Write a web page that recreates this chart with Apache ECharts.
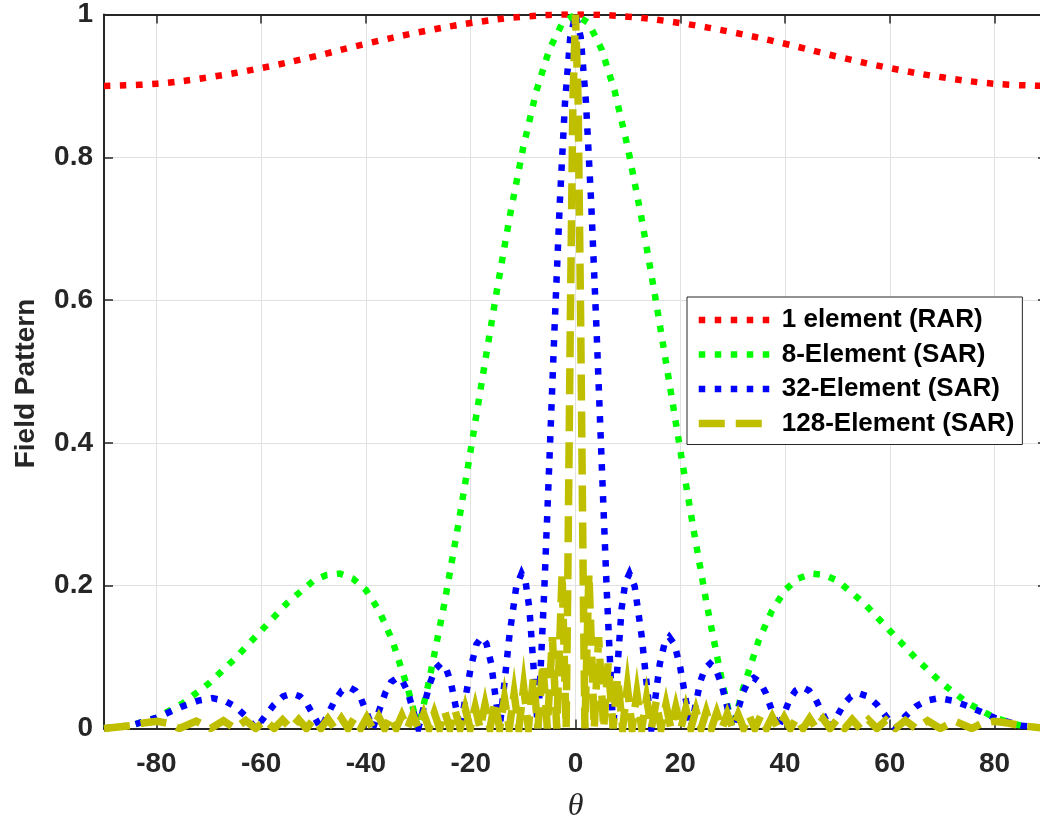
<!DOCTYPE html>
<html>
<head>
<meta charset="utf-8">
<script src="https://cdn.jsdelivr.net/npm/echarts@6/dist/echarts.min.js"></script>
<style>
html,body{margin:0;padding:0;background:#fff;}
#chart{width:1040px;height:821px;}
</style>
</head>
<body>
<div id="chart"></div>
<script>
// ---- data ----
const xTicks = [-80, -60, -40, -20, 0, 20, 40, 60, 80];
const seriesNames = ['1 element (RAR)', '8-Element (SAR)', '32-Element (SAR)', '128-Element (SAR)'];

const theta1 = [-90,-80,-70,-60,-50,-40,-30,-20,-10,0,10,20,30,40,50,60,70,80,90];
const rar1 = [0.900,0.903,0.912,0.925,0.941,0.959,0.975,0.988,0.997,1.000,0.997,0.988,0.975,0.959,0.941,0.925,0.912,0.903,0.900];

const theta8 = [-90,-85,-80,-75,-70,-65,-60,-55,-50,-47.5,-45,-42.5,-40,-37.5,-35,-32,-30,-28,-25,-22.5,-20,-17.5,-15,-12.5,-10,-7.5,-5,-2.5,
  0,2.5,5,7.5,10,12.5,15,17.5,20,22.5,25,28,30,32,35,37.5,40,42.5,45,47.5,50,55,60,65,70,75,80,85,90];
const sar8 = [0,0.004,0.015,0.035,0.063,0.098,0.137,0.176,0.207,0.215,0.217,0.210,0.194,0.165,0.124,0.056,0,0.065,0.176,0.280,0.390,0.503,0.614,0.719,0.813,0.892,0.951,0.988,
  1,0.988,0.951,0.892,0.813,0.719,0.614,0.503,0.390,0.280,0.176,0.065,0,0.056,0.124,0.165,0.194,0.210,0.217,0.215,0.207,0.176,0.137,0.098,0.063,0.035,0.015,0.004,0];

const theta32 = [-90,-85,-80,-75,-72,-69.35,-67,-65,-63,-61.05,-57.6,-55.8,-54.15,-52.6,-51.3,-48.59,-45.9,-44.6,-43.25,-42,-40.9,-38.68,-36.3,-35.2,-34.03,-33,-32,-30,-27.9,-26.8,-25.7,-24.7,-23.8,-22.02,-20,-18.9,-17.9,-17,-16.1,-14.48,-12.6,-11.3,-10.3,-9.5,-8.8,-7.18,-6,-5,-4,-3,-2,-1,
  0,1,2,3,4,5,6,7.18,8.8,9.5,10.3,11.3,12.6,14.48,16.1,17,17.9,18.9,20,22.02,23.8,24.7,25.7,26.8,27.9,30,32,33,34.03,35.2,36.3,38.68,40.9,42,43.25,44.6,45.9,48.59,51.3,52.6,54.15,55.8,57.6,61.05,63,65,67,69.35,72,75,80,85,90];
const sar32 = [0,0.004,0.015,0.031,0.039,0.0425,0.039,0.031,0.0175,0,0.033,0.045,0.049,0.045,0.035,0,0.040,0.053,0.058,0.053,0.041,0,0.050,0.065,0.071,0.066,0.051,0,0.061,0.083,0.091,0.084,0.065,0,0.085,0.118,0.128,0.119,0.091,0,0.131,0.199,0.217,0.204,0.168,0,0.187,0.372,0.561,0.736,0.877,0.968,
  1,0.968,0.877,0.736,0.561,0.372,0.187,0,0.168,0.204,0.217,0.199,0.131,0,0.091,0.119,0.128,0.118,0.085,0,0.065,0.084,0.091,0.083,0.061,0,0.051,0.066,0.071,0.065,0.050,0,0.041,0.053,0.058,0.053,0.040,0,0.035,0.045,0.049,0.045,0.033,0,0.0175,0.031,0.039,0.0425,0.039,0.031,0.015,0.004,0];

const theta128 = [-90,-85,-82.5,-79.86,-77.5,-75.64,-72.4,-69.64,-67.21,-65.01,-62.96,-61.05,-59.25,-57.52,-55.91,-54.34,-52.83,-51.37,-49.96,-48.59,-47.26,-45.95,-44.68,-43.43,-42.21,-41.01,-39.84,-38.68,-37.55,-36.44,-35.32,-34.23,-33.15,-32.09,-31.04,-30,-28.97,-27.95,-26.95,-25.94,-24.95,-23.97,-22.99,-22.02,-21.06,-20.11,-19.15,-18.21,-17.27,-16.33,-15.4,-14.48,-13.56,-12.64,-11.72,-10.81,-9.9,-8.99,-8.04,-7.18,-6.23,-5.38,-4.41,-3.58,-2.56,-1.79,-1.5,-1,-0.5,
  0,
  0.5,1,1.5,1.79,2.56,3.58,4.41,5.38,6.23,7.18,8.04,8.99,9.9,10.81,11.72,12.64,13.56,14.48,15.4,16.33,17.27,18.21,19.15,20.11,21.06,22.02,22.99,23.97,24.95,25.94,26.95,27.95,28.97,30,31.04,32.09,33.15,34.23,35.32,36.44,37.55,38.68,39.84,41.01,42.21,43.43,44.68,45.95,47.26,48.59,49.96,51.37,52.83,54.34,55.91,57.52,59.25,61.05,62.96,65.01,67.21,69.64,72.4,75.64,77.5,79.86,82.5,85,90];
const sar128 = [0,0.004,0.0076,0.0101,0.007,0,0.0104,0,0.0108,0,0.0112,0,0.0116,0,0.012,0,0.0125,0,0.013,0,0.0136,0,0.0142,0,0.0148,0,0.0155,0,0.0163,0,0.0172,0,0.0182,0,0.0193,0,0.0205,0,0.022,0,0.0236,0,0.0255,0,0.028,0,0.030,0,0.0335,0,0.0375,0,0.042,0,0.049,0,0.058,0,0.071,0,0.091,0,0.128,0,0.217,0,0.186,0.560,0.877,
  1,
  0.877,0.560,0.186,0,0.217,0,0.128,0,0.091,0,0.071,0,0.058,0,0.049,0,0.042,0,0.0375,0,0.0335,0,0.030,0,0.028,0,0.0255,0,0.0236,0,0.022,0,0.0205,0,0.0193,0,0.0182,0,0.0172,0,0.0163,0,0.0155,0,0.0148,0,0.0142,0,0.0136,0,0.013,0,0.0125,0,0.012,0,0.0116,0,0.0112,0,0.0108,0,0.0104,0,0.007,0.0101,0.0076,0.004,0];

// ---- build ----
const pairs = (xs, ys) => xs.map((x, i) => [x, ys[i]]);
const FONT = 'Liberation Sans';
const AX = '#262626';
const colors = ['#ff0000', '#00ff00', '#0000ff', '#bfbf00'];
const dotStyle = (c) => ({ color: c, width: 6.5, type: [6.5, 9.5], cap: 'butt', join: 'miter' });
const dashStyle = (c) => ({ color: c, width: 7.5, type: [26, 11], cap: 'butt', join: 'miter' });
const styles = [dotStyle(colors[0]), dotStyle(colors[1]), dotStyle(colors[2]), dashStyle(colors[3])];
const datasets = [pairs(theta1, rar1), pairs(theta8, sar8), pairs(theta32, sar32), pairs(theta128, sar128)];

const chart = echarts.init(document.getElementById('chart'), null, { renderer: 'canvas' });
const option = {
  animation: false,
  backgroundColor: '#ffffff',
  color: colors,
  grid: { left: 104, top: 14.5, width: 943, height: 714, containLabel: false, outerBoundsMode: 'none' },
  legend: {
    orient: 'vertical',
    left: 687, top: 297,
    padding: [10, 8, 8, 8],
    itemGap: 8.5,
    itemWidth: 72, itemHeight: 26,
    backgroundColor: '#ffffff',
    borderColor: AX, borderWidth: 1, borderRadius: 0,
    itemStyle: { opacity: 0, borderWidth: 0 },
    textStyle: { fontFamily: FONT, fontSize: 26, fontWeight: 'bold', color: '#000', padding: [0, 0, 0, 6], lineHeight: 26 },
    data: seriesNames.map((n, i) => ({ name: n, lineStyle: styles[i], itemStyle: { opacity: 0, borderWidth: 0 } })),
    selectedMode: false
  },
  xAxis: [{
    type: 'value', min: -90, max: 90, position: 'bottom',
    axisLine: { show: true, onZero: false, lineStyle: { color: AX, width: 2 } },
    axisTick: { show: true, inside: true, length: 9, customValues: xTicks, lineStyle: { color: AX, width: 1.5 } },
    axisLabel: { show: true, customValues: xTicks, fontFamily: FONT, fontSize: 28, fontWeight: 'bold', color: AX, margin: 22 },
    splitLine: { show: true, lineStyle: { color: '#e1e1e1', width: 1 } },
    name: 'θ', nameLocation: 'middle', nameGap: 62,
    nameTextStyle: { fontFamily: 'Liberation Serif', fontStyle: 'italic', fontSize: 32, color: AX }
  }, {
    type: 'value', min: -90, max: 90, position: 'top',
    axisLine: { show: true, onZero: false, lineStyle: { color: AX, width: 2 } },
    axisTick: { show: true, inside: true, length: 9, customValues: xTicks, lineStyle: { color: AX, width: 1.5 } },
    axisLabel: { show: false },
    splitLine: { show: false }
  }],
  yAxis: [{
    type: 'value', min: 0, max: 1, interval: 0.2, position: 'left',
    axisLine: { show: true, onZero: false, lineStyle: { color: AX, width: 2 } },
    axisTick: { show: true, inside: true, length: 9, lineStyle: { color: AX, width: 1.5 } },
    axisLabel: { fontFamily: FONT, fontSize: 28, fontWeight: 'bold', color: AX, margin: 11 },
    splitLine: { show: true, lineStyle: { color: '#e1e1e1', width: 1 } },
    name: 'Field Pattern', nameLocation: 'middle', nameGap: 64, nameRotate: 90,
    nameTextStyle: { fontFamily: FONT, fontSize: 28, fontWeight: 'bold', color: AX, padding: [0, 24, 0, 0] }
  }, {
    type: 'value', min: 0, max: 1, interval: 0.2, position: 'right',
    axisLine: { show: true, onZero: false, lineStyle: { color: AX, width: 2 } },
    axisTick: { show: true, inside: true, length: 9, lineStyle: { color: AX, width: 1.5 } },
    axisLabel: { show: false },
    splitLine: { show: false }
  }],
  series: seriesNames.map((n, i) => ({
    name: n, type: 'line', xAxisIndex: 0, yAxisIndex: 0,
    data: datasets[i],
    symbol: 'none', showSymbol: false,
    smooth: i === 0 ? 0.4 : false,
    itemStyle: { color: colors[i] },
    lineStyle: styles[i],
    z: 2 + i
  }))
};
chart.setOption(option);
</script>
</body>
</html>
